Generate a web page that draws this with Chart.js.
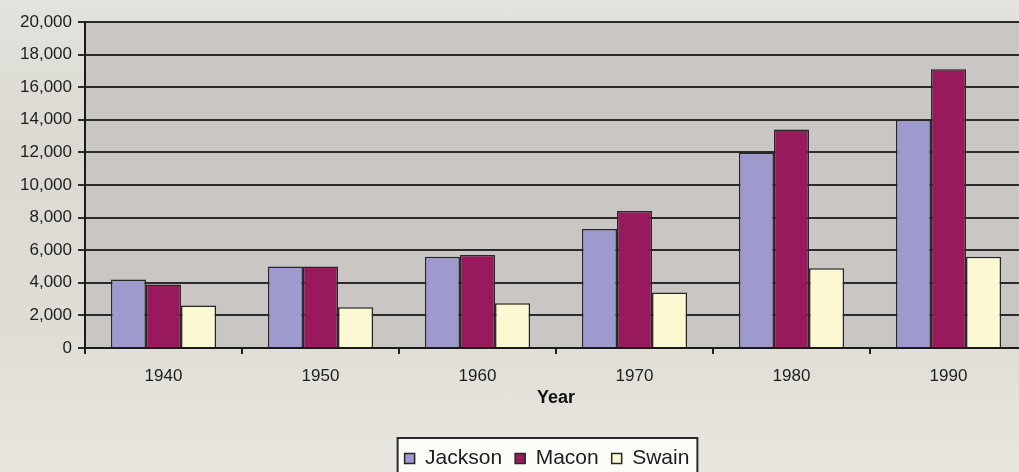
<!DOCTYPE html>
<html>
<head>
<meta charset="utf-8">
<script src="https://cdn.jsdelivr.net/npm/chart.js@4/dist/chart.umd.min.js"></script>
<style>
  html, body { margin: 0; padding: 0; width: 1019px; height: 472px; overflow: hidden;
    background: linear-gradient(to bottom, #e4e2dd 0%, #dcd9d2 30%, #e0ddd6 70%, #e9e6df 100%); }
  #wrap { position: absolute; left: 0; top: 0; width: 1094px; height: 472px; }
</style>
</head>
<body>
<div id="wrap"><canvas id="c" width="1094" height="472"></canvas></div>
<script>
const categories = ['1940', '1950', '1960', '1970', '1980', '1990'];
const jackson = [4200, 5000, 5600, 7300, 12000, 14000];
const macon   = [3900, 5000, 5700, 8400, 13400, 17100];
const swain   = [2600, 2500, 2750, 3400, 4900, 5600];
const seriesNames = ['Jackson', 'Macon', 'Swain'];
const yMax = 20000;
const yStep = 2000;

const plotBg = {
  id: 'plotBg',
  beforeDraw(chart) {
    const { ctx, chartArea: a } = chart;
    ctx.save();
    ctx.fillStyle = '#c9c6c3';
    ctx.fillRect(a.left, a.top, a.right - a.left, a.bottom - a.top);
    const lg = chart.legend;
    if (lg && lg.legendHitBoxes && lg.legendHitBoxes.length) {
      const hb = lg.legendHitBoxes;
      const x0 = hb[0].left - 7;
      const last = hb[hb.length - 1];
      const x1 = last.left + last.width + 8;
      const y0 = 438;
      ctx.fillStyle = '#fbfbf8';
      ctx.fillRect(x0, y0, x1 - x0, 60);
      ctx.strokeStyle = '#2a2a2a';
      ctx.lineWidth = 2;
      ctx.strokeRect(x0, y0, x1 - x0, 60);
    }
    ctx.restore();
  }
};

const FONT = 'Liberation Sans, Arial, sans-serif';

new Chart(document.getElementById('c'), {
  type: 'bar',
  data: {
    labels: categories,
    datasets: [
      { label: seriesNames[0], data: jackson, backgroundColor: '#9f9acd', borderColor: '#262626', borderWidth: 1.5 },
      { label: seriesNames[1], data: macon,   backgroundColor: '#991a5c', borderColor: '#262626', borderWidth: 1.5 },
      { label: seriesNames[2], data: swain,   backgroundColor: '#fcf8d2', borderColor: '#262626', borderWidth: 1.5 }
    ]
  },
  options: {
    responsive: false,
    animation: false,
    devicePixelRatio: 1,
    layout: { padding: { top: 22, left: 0, right: 0, bottom: -7 } },
    datasets: { bar: { categoryPercentage: 0.67, barPercentage: 1.0, borderSkipped: 'bottom' } },
    plugins: {
      tooltip: { enabled: false },
      legend: {
        position: 'bottom',
        labels: {
          boxWidth: 10, boxHeight: 10, padding: 13,
          color: '#1c1c1c',
          font: { family: FONT, size: 21 }
        }
      }
    },
    scales: {
      x: {
        afterFit(s) { s.height = 87; },
        grid: { display: true, drawOnChartArea: false, drawTicks: true, tickLength: 6, color: '#222', lineWidth: 2, offset: true },
        border: { display: true, color: '#1a1a1a', width: 2 },
        ticks: { color: '#1e1e1e', padding: 12, font: { family: FONT, size: 17 } },
        title: { display: true, text: 'Year', color: '#111', padding: { top: 2, bottom: 26 },
          font: { family: FONT, size: 18, weight: 'bold' } }
      },
      y: {
        min: 0, max: yMax,
        afterFit(s) { s.width = 85; },
        ticks: {
          stepSize: yStep, color: '#1e1e1e', padding: 6,
          font: { family: FONT, size: 17 },
          callback: v => v.toLocaleString('en-US')
        },
        grid: { color: '#2b2b2b', lineWidth: 2, tickLength: 7, drawTicks: true },
        border: { display: true, color: '#1a1a1a', width: 2 }
      },
      y2: {
        position: 'right',
        afterFit(s) { s.width = 67; },
        ticks: { display: false },
        grid: { display: false },
        border: { display: false }
      }
    }
  },
  plugins: [plotBg]
});
</script>
</body>
</html>
